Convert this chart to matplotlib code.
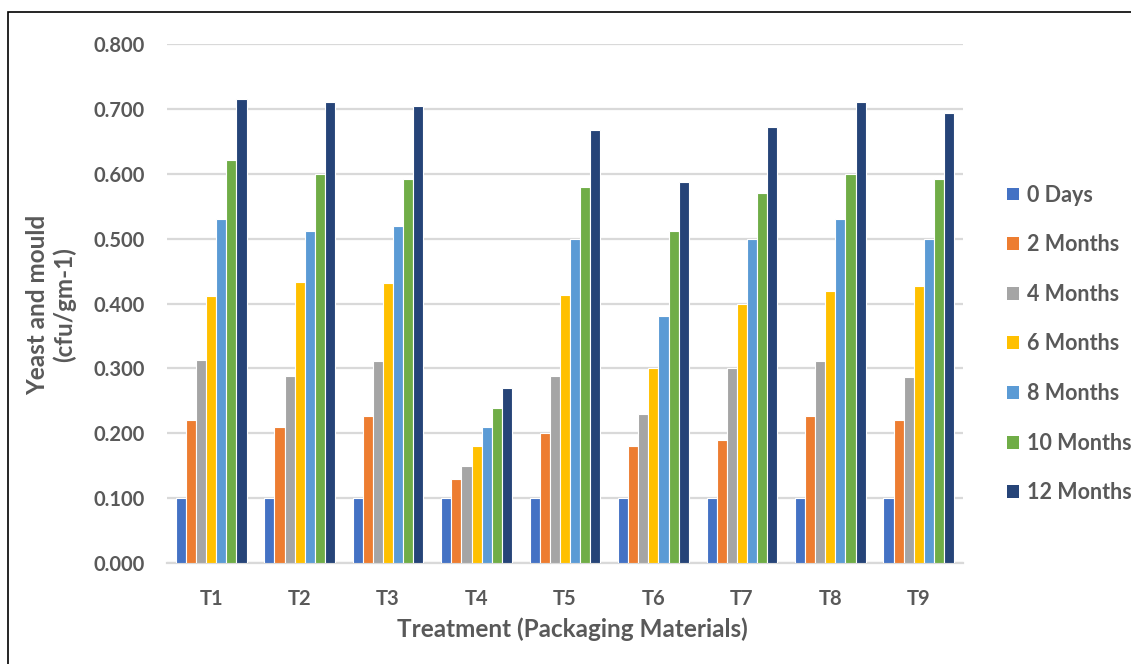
import matplotlib
matplotlib.use("Agg")
import matplotlib.pyplot as plt
from matplotlib.patches import Rectangle, Patch
import numpy as np

plt.rcParams['font.family'] = ['Lato', 'DejaVu Sans']

categories = ["T1", "T2", "T3", "T4", "T5", "T6", "T7", "T8", "T9"]
series_names = ["0 Days", "2 Months", "4 Months", "6 Months", "8 Months", "10 Months", "12 Months"]
days0 = [0.100, 0.100, 0.100, 0.100, 0.100, 0.100, 0.100, 0.100, 0.100]
months2 = [0.220, 0.210, 0.226, 0.130, 0.200, 0.180, 0.189, 0.226, 0.220]
months4 = [0.313, 0.289, 0.311, 0.150, 0.289, 0.230, 0.300, 0.311, 0.287]
months6 = [0.411, 0.433, 0.431, 0.181, 0.413, 0.300, 0.400, 0.420, 0.427]
months8 = [0.530, 0.511, 0.520, 0.210, 0.500, 0.380, 0.500, 0.530, 0.500]
months10 = [0.621, 0.600, 0.592, 0.239, 0.580, 0.511, 0.570, 0.600, 0.592]
months12 = [0.715, 0.710, 0.704, 0.269, 0.667, 0.587, 0.672, 0.710, 0.693]
yticks = [0.0, 0.1, 0.2, 0.3, 0.4, 0.5, 0.6, 0.7, 0.8]

series = [days0, months2, months4, months6, months8, months10, months12]
colors = ["#4472C4", "#ED7D31", "#A5A5A5", "#FFC000", "#5B9BD5", "#70AD47", "#264478"]

W, H = 1131, 664
fig = plt.figure(figsize=(W / 100, H / 100), dpi=100)
ax = fig.add_axes([167 / W, 1 - 563 / H, (963 - 167) / W, (563 - 44) / H])

x = np.arange(len(categories))
n = len(series)
group = 0.80
bw = group / n
for i, (vals, col, name) in enumerate(zip(series, colors, series_names)):
    off = -group / 2 + bw * (i + 0.5)
    ax.bar(x + off, vals, width=bw, color=col, edgecolor="white", linewidth=0.8,
           label=name, zorder=3)

ax.set_xlim(-0.5, len(categories) - 0.5)
ax.set_ylim(0, 0.8)
ax.set_yticks(yticks)
ax.set_yticklabels([f"{v:.3f}" for v in yticks])
ax.set_xticks(x)
ax.set_xticklabels(categories)
ax.yaxis.grid(True, color="#D9D9D9", linewidth=1.6, zorder=0)
ax.set_axisbelow(True)
for s in ["top", "right", "left"]:
    ax.spines[s].set_visible(False)
ax.spines["bottom"].set_color("#D9D9D9")
ax.spines["bottom"].set_linewidth(1.6)
ax.tick_params(axis="both", length=0, labelcolor="#595959")
ax.tick_params(axis="y", pad=16, labelsize=14.5)
ax.tick_params(axis="x", pad=19, labelsize=14.5)
for lab in ax.get_xticklabels() + ax.get_yticklabels():
    lab.set_fontweight("bold")

fig.text(572 / W, 1 - 629 / H, "Treatment (Packaging Materials)", ha="center",
         va="center", fontsize=17.5, fontweight="bold", color="#595959")
fig.text(51 / W, 1 - 305 / H, "Yeast and mould\n(cfu/gm-1)", rotation=90,
         ha="center", va="center", fontsize=17.5, fontweight="bold", color="#595959",
         linespacing=1.15)

handles = [Patch(facecolor=c, edgecolor="none") for c in colors]
leg = fig.legend(handles, series_names, loc="center left",
                 bbox_to_anchor=(1007 / W, 1 - 344 / H), frameon=False,
                 fontsize=15.5, handlelength=0.54, handleheight=0.54,
                 handletextpad=0.4, labelspacing=1.33, borderaxespad=0,
                 borderpad=0)
for t in leg.get_texts():
    t.set_color("#595959")
    t.set_fontweight("bold")

fig.patches.append(Rectangle((8 / W, -0.05), 1.2, 1 - 12 / H + 0.05,
                             transform=fig.transFigure, fill=False,
                             edgecolor="black", linewidth=1.2))

fig.savefig("out.png", dpi=100)
